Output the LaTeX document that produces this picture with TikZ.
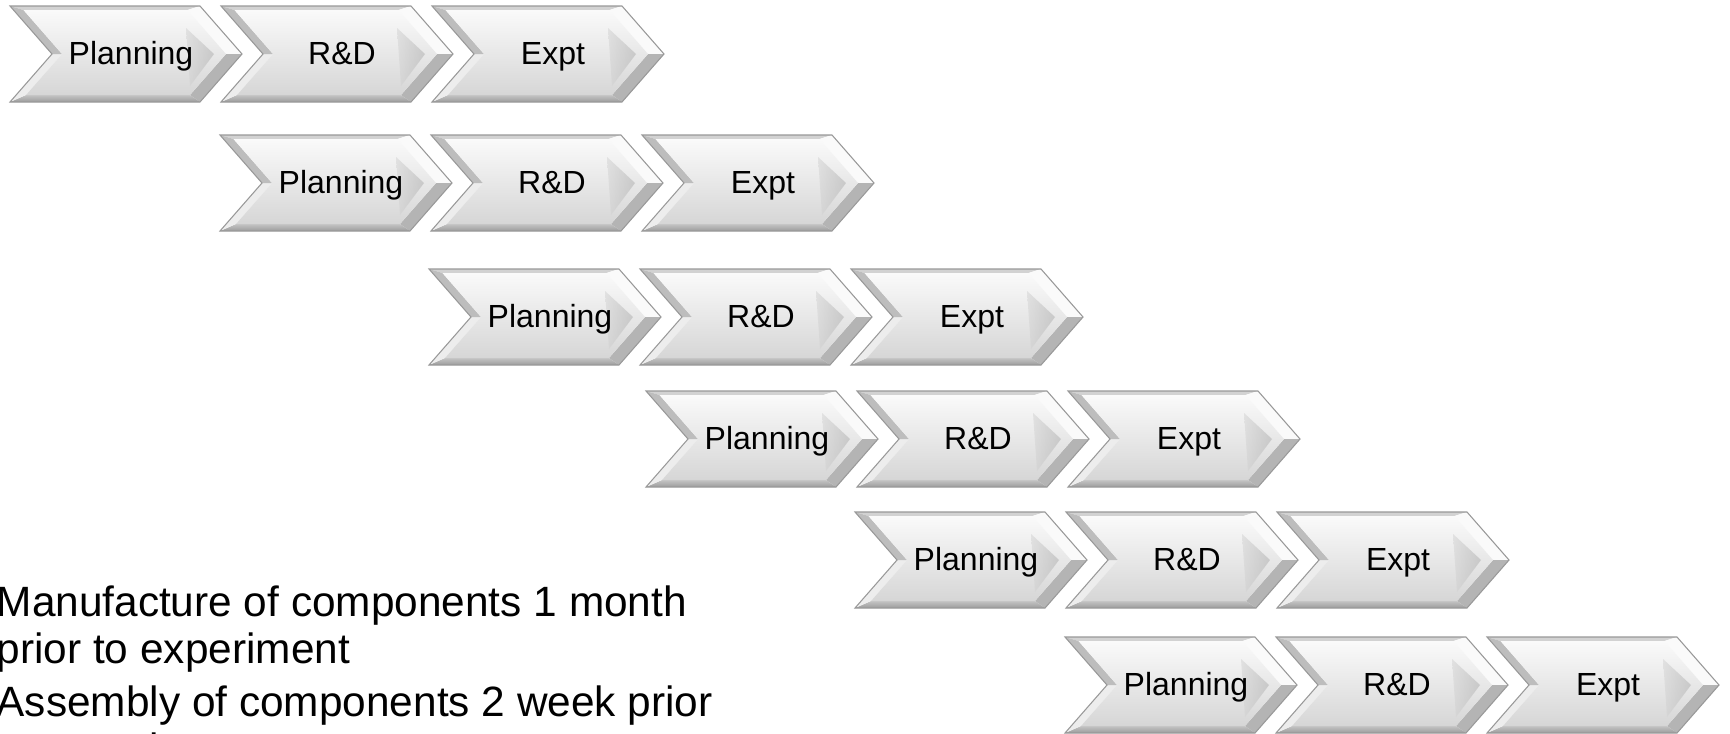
\documentclass[tikz,border=0pt]{standalone}
\usepackage{fontspec}
\setmainfont{Liberation Sans}
\definecolor{rimtop}{HTML}{D2D2D2}
\definecolor{rimleft}{HTML}{BDBDBD}
\definecolor{rimlow}{HTML}{EDEDED}
\definecolor{rimbot}{HTML}{9C9C9C}
\definecolor{tipup}{HTML}{FAFAFA}
\definecolor{tiplow}{HTML}{B4B4B4}
\definecolor{facetop}{HTML}{FAFAFA}
\definecolor{facebot}{HTML}{D6D6D6}
\def\w{190}
\def\p{42}
\def\h{96}
\def\m{48}
\def\dx{211}

% one bevelled chevron, top left corner at (#1,#2)
\def\chevron#1#2#3#4{%
  \begin{scope}[shift={({#1},{#2})}]
    \fill[rimtop] (0,0) -- (\w,0) -- (177.5,4) -- (13.5,4) -- cycle;
    \fill[tipup] (\w,0) -- (\w+\p,\m) -- (216,\m) -- (177.5,4) -- cycle;
    \fill[tiplow] (\w+\p,\m) -- (\w,\h) -- (180,89) -- (216,\m) -- cycle;
    \shade[top color=rimbot!60, bottom color=rimbot] (\w,\h) -- (0,\h) -- (16,89) -- (180,89) -- cycle;
    \fill[rimlow] (0,\h) -- (\p,\m) -- (52,\m) -- (16,89) -- cycle;
    \fill[rimleft] (\p,\m) -- (0,0) -- (13.5,4) -- (52,\m) -- cycle;
    \shade[top color=facetop, bottom color=facebot] (13.5,4) -- (177.5,4) -- (216,\m) -- (180,89) -- (16,89) -- (52,\m) -- cycle;
    \shade[left color=facebot, right color=tiplow, opacity=0.6] (176,22) -- (204,\m) -- (180,80) -- cycle;
    \draw[gray!80, line width=0.3pt] (0,0) -- (\w,0) -- (\w+\p,\m) -- (\w,\h) -- (0,\h) -- (\p,\m) -- cycle;
    \node[steplabel] (#3) at (121,58) {#4};
  \end{scope}}

\tikzset{
  steplabel/.style={font=\fontsize{9.1}{11}\selectfont, anchor=base, inner sep=0pt},
  notes/.style={font=\fontsize{12.05}{13.4}\selectfont, align=left, inner sep=0pt, anchor=north west}
}

\begin{document}
\begin{tikzpicture}[x=0.01cm, y=-0.01cm]
  \useasboundingbox (0,0) rectangle (1730,733);
  \fill[white] (0,0) rectangle (1730,733);

  % six rows, each one step further right
  \foreach \r/\rx/\ry in {0/10/6, 1/220/135, 2/429/269, 3/646/391, 4/855/512, 5/1065/637} {
    \foreach \c/\txt/\nm in {0/Planning/plan, 1/{R\&D}/rd, 2/Expt/expt} {
      \chevron{\rx+\dx*\c}{\ry}{\nm\r}{\txt}
    }
  }

  % notes below left
  \node[notes] (notes) at (-4,585) {Manufacture of components 1 month\\
    prior to experiment\\[1.7pt]
    Assembly of components 2 week prior\\
    to experiment};
\end{tikzpicture}
\end{document}
